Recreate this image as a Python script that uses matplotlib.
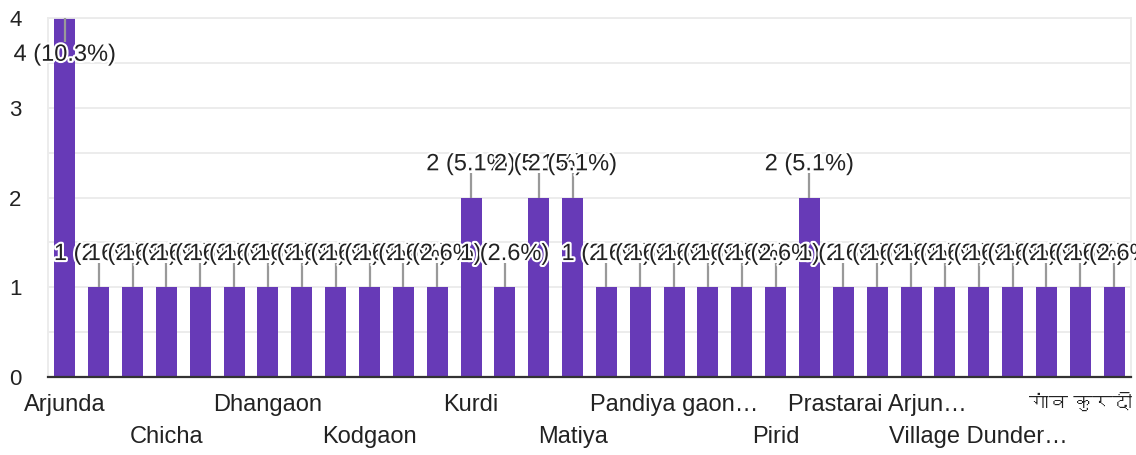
import matplotlib
matplotlib.use("Agg")
import matplotlib.pyplot as plt
import matplotlib.patheffects as pe
from matplotlib import font_manager
from fontTools.ttLib import TTFont

# responses per village (39 total), sorted as in the form summary
categories = ['Arjunda', '', '', 'Chicha', '', '', 'Dhangaon', '', '', 'Kodgaon', '', '',
              'Kurdi', '', '', 'Matiya', '', '', 'Pandiya gaon…', '', '', 'Pirid', '', '',
              'Prastarai Arjun…', '', '', 'Village Dunder…', '', '', 'गांव कुरदी', '']
counts = [4, 1, 1, 1, 1, 1, 1, 1, 1, 1, 1, 1, 2, 1, 2, 2,
          1, 1, 1, 1, 1, 1, 2, 1, 1, 1, 1, 1, 1, 1, 1, 1]
y_ticks = [0, 1, 2, 3, 4]

PURPLE = '#673ab7'
TEXT = '#222222'


def find_font(codepoint):
    # look for any installed font that has the glyph
    for f in font_manager.fontManager.ttflist:
        try:
            cmap = TTFont(f.fname, fontNumber=0, lazy=True).getBestCmap()
        except Exception:
            continue
        if cmap and codepoint in cmap:
            return f.name
    return None


plt.rcParams['font.family'] = ['Liberation Sans', 'DejaVu Sans']
deva = find_font(0x0917)

fig = plt.figure(figsize=(11.36, 4.55), dpi=100)
ax = fig.add_axes([48 / 1136, 1 - 377 / 455, 1083 / 1136, 359 / 455])

n = len(counts)
total = sum(counts)
x = list(range(n))
ax.bar(x, counts, width=0.62, color=PURPLE, zorder=2)

ax.set_xlim(-0.5, n - 0.5)
ax.set_ylim(0, max(y_ticks))
ax.set_yticks(y_ticks)
ax.set_yticks([v + 0.5 for v in y_ticks[:-1]], minor=True)
ax.grid(axis='y', which='both', color='#ebebeb', lw=1.3, zorder=0)
ax.tick_params(axis='y', which='both', length=0, pad=19, labelsize=16, labelcolor=TEXT)

# every third category is labelled, alternating between two rows
shown = list(range(0, n, 3))
top_row, bottom_row = shown[::2], shown[1::2]
ax.set_xticks(top_row)
ax.set_xticklabels([categories[i] for i in top_row])
ax.set_xticks(bottom_row, minor=True)
ax.set_xticklabels([categories[i] for i in bottom_row], minor=True)
ax.tick_params(axis='x', which='major', length=0, pad=12, labelsize=17, labelcolor=TEXT)
ax.tick_params(axis='x', which='minor', length=0, pad=35, labelsize=17, labelcolor=TEXT)
# matplotlib does no Devanagari shaping, so that label comes out wider: shrink it a bit
for lbl in ax.get_xticklabels() + ax.get_xticklabels(minor=True):
    if any('\u0900' <= ch <= '\u097f' for ch in lbl.get_text()):
        lbl.set_fontsize(14)
        if deva:
            lbl.set_family(['Liberation Sans', deva, 'DejaVu Sans'])

for s in ['left', 'right', 'top']:
    ax.spines[s].set_color('#ebebeb')
    ax.spines[s].set_linewidth(1.3)
ax.spines['bottom'].set_color('#333333')
ax.spines['bottom'].set_linewidth(1.6)
ax.spines['bottom'].set_zorder(3)

# value labels with leader lines
ymax = max(y_ticks)
for i, v in enumerate(counts):
    txt = '%d (%.1f%%)' % (v, 100.0 * v / total)
    if v + 0.45 > ymax:
        ax.plot([i, i], [v, v - 0.27], color='#999999', lw=1.6, zorder=3, solid_capstyle='butt')
        ty = v - 0.41
    else:
        ax.plot([i, i], [v, v + 0.27], color='#999999', lw=1.6, zorder=3, solid_capstyle='butt')
        ty = v + 0.37
    ax.text(i, ty, txt, ha='center', va='center', fontsize=17, color=TEXT, zorder=4,
            clip_on=False,
            path_effects=[pe.withStroke(linewidth=3, foreground='white')])

fig.savefig('out.png', dpi=100)
